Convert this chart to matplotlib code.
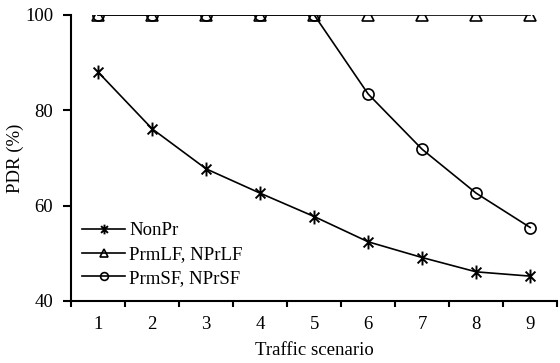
import matplotlib
matplotlib.use("Agg")
import matplotlib.pyplot as plt
import numpy as np
from matplotlib.path import Path

scenarios = [1, 2, 3, 4, 5, 6, 7, 8, 9]
nonpr = [88.0, 76.1, 67.7, 62.6, 57.7, 52.4, 49.1, 46.1, 45.2]
prmlf = [100, 100, 100, 100, 100, 100, 100, 100, 100]
prmsf = [100, 100, 100, 100, 100, 83.4, 71.8, 62.6, 55.4]

plt.rcParams['font.family'] = ['Liberation Serif', 'DejaVu Serif']
plt.rcParams['font.size'] = 13.5

# asterisk marker: vertical stroke plus two diagonals
verts, codes = [], []
for ang in [45, 90, 135]:
    a = np.deg2rad(ang)
    dx, dy = np.cos(a), np.sin(a)
    verts += [(-dx, -dy), (dx, dy)]
    codes += [Path.MOVETO, Path.LINETO]
star = Path(verts, codes)

fig = plt.figure(figsize=(5.6, 3.63), dpi=100)
ax = fig.add_axes([0.127, 0.171, 0.868, 0.788])

ax.plot(scenarios, nonpr, color='black', lw=1.2, marker=star, ms=10, mew=1.4, label='NonPr')
ax.plot(scenarios, prmlf, color='black', lw=1.2, marker='^', ms=9, mfc='none', mew=1.2, label='PrmLF, NPrLF')
ax.plot(scenarios, prmsf, color='black', lw=1.2, marker='o', ms=8, mfc='none', mew=1.2, label='PrmSF, NPrSF')

ax.set_xlim(0.5, 9.5)
ax.set_ylim(40, 100)
ax.set_yticks([40, 60, 80, 100])
ax.set_xticks([x + 0.5 for x in range(0, 10)])
ax.set_xticklabels([])
ax.set_xticks(scenarios, minor=True)
ax.set_xticklabels([str(s) for s in scenarios], minor=True)
ax.tick_params(axis='x', which='minor', length=0, pad=11)
ax.tick_params(axis='x', which='major', direction='out', length=4, width=1.5)
ax.tick_params(axis='y', which='major', direction='out', length=6, width=1.5, pad=7)
for s in ['top', 'right']:
    ax.spines[s].set_visible(False)
for s in ['left', 'bottom']:
    ax.spines[s].set_linewidth(1.5)

ax.set_xlabel('Traffic scenario', labelpad=6)
ax.set_ylabel('PDR (%)', labelpad=1)

ax.legend(loc='lower left', frameon=False, handlelength=2.3, handletextpad=0.2,
          labelspacing=0.35, borderaxespad=0.2, markerscale=0.7,
          bbox_to_anchor=(0.0, 0.01))

fig.savefig('out.png', dpi=100)
